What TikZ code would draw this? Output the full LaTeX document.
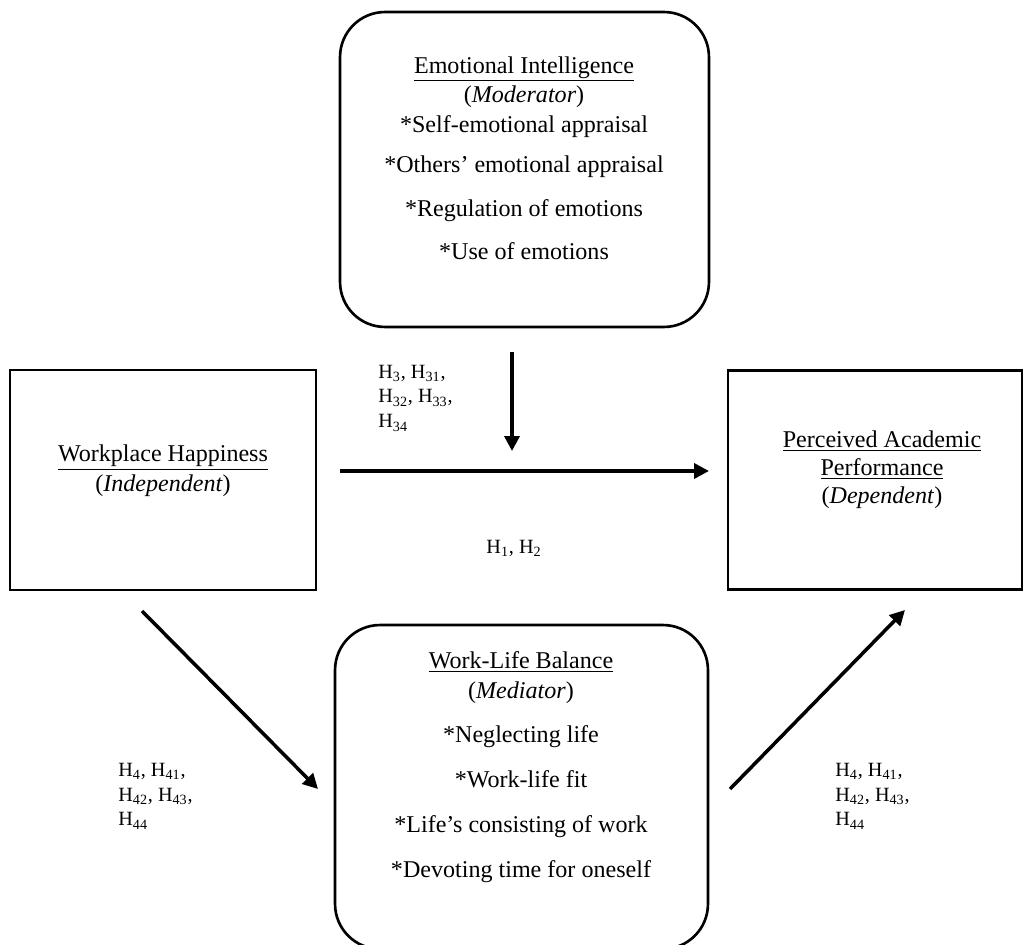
\documentclass[tikz,border=0pt]{standalone}
\usepackage{fontspec}
\setmainfont{Liberation Serif}
\usetikzlibrary{arrows.meta}

\tikzset{
  varbox/.style={draw, line width=1.5pt, inner sep=0pt},
  modbox/.style={varbox, rounded corners=0.9cm},
  vartext/.style={align=center, font=\fontsize{13.7}{17}\selectfont},
  hyp/.style={align=left, anchor=west, inner sep=0pt, font=\fontsize{11.5}{14.2}\selectfont},
  link/.style={line width=2pt, -{Triangle[length=0.3cm,width=0.3cm]}}
}

\begin{document}
\begin{tikzpicture}[x=0.02cm, y=-0.02cm]
\clip (0,0) rectangle (1024,945);
% boxes
\node[modbox, minimum width=7.38cm, minimum height=6.3cm] (ei) at (524.5,169.5) {};
\node[varbox, minimum width=6.12cm, minimum height=4.4cm] (wh) at (163,480) {};
\node[varbox, minimum width=5.88cm, minimum height=4.38cm] (pap) at (875,480) {};
\node[modbox, minimum width=7.46cm, minimum height=6.48cm] (wlb) at (521.5,787) {};
% texts
\node[vartext] (ei-txt) at (524,158) {\underline{Emotional Intelligence}\\(\textit{Moderator})\\*Self-emotional appraisal\\[0.2cm]
  *Others’ emotional appraisal\\[0.28cm]*Regulation of emotions\\[0.26cm]*Use of emotions};
\node[vartext] (wh-txt) at (163,471) {\underline{Workplace Happiness}\\(\textit{Independent})};
\node[vartext, font=\fontsize{13.7}{16}\selectfont] (pap-txt) at (882,470) {\underline{Perceived Academic}\\\underline{Performance}\\(\textit{Dependent})};
\node[vartext] (wlb-txt) at (521,767) {\underline{Work-Life Balance}\\(\textit{Mediator})\\[0.3cm]*Neglecting life\\[0.3cm]
  *Work-life fit\\[0.3cm]*Life’s consisting of work\\[0.3cm]*Devoting time for oneself};
% hypotheses
\node[hyp] (h3) at (378,398) {H\textsubscript{3}, H\textsubscript{31},\\H\textsubscript{32}, H\textsubscript{33},\\H\textsubscript{34}};
\node[hyp, anchor=center] (h1) at (514,548) {H\textsubscript{1}, H\textsubscript{2}};
\node[hyp] (h4a) at (118,796) {H\textsubscript{4}, H\textsubscript{41},\\H\textsubscript{42}, H\textsubscript{43},\\H\textsubscript{44}};
\node[hyp] (h4b) at (835,796) {H\textsubscript{4}, H\textsubscript{41},\\H\textsubscript{42}, H\textsubscript{43},\\H\textsubscript{44}};
% arrows
\coordinate (mod-top) at (512,352);
\coordinate (mod-end) at (512,451);
\coordinate (wh-out) at (340,471);
\coordinate (pap-in) at (709,471);
\coordinate (wh-low) at (142,611);
\coordinate (wlb-in) at (318,789);
\coordinate (wlb-out) at (730,789);
\coordinate (pap-low) at (905,610);
\draw[link] (mod-top) -- (mod-end);
\draw[link] (wh-out) -- (pap-in);
\draw[link] (wh-low) -- (wlb-in);
\draw[link] (wlb-out) -- (pap-low);
\end{tikzpicture}
\end{document}
